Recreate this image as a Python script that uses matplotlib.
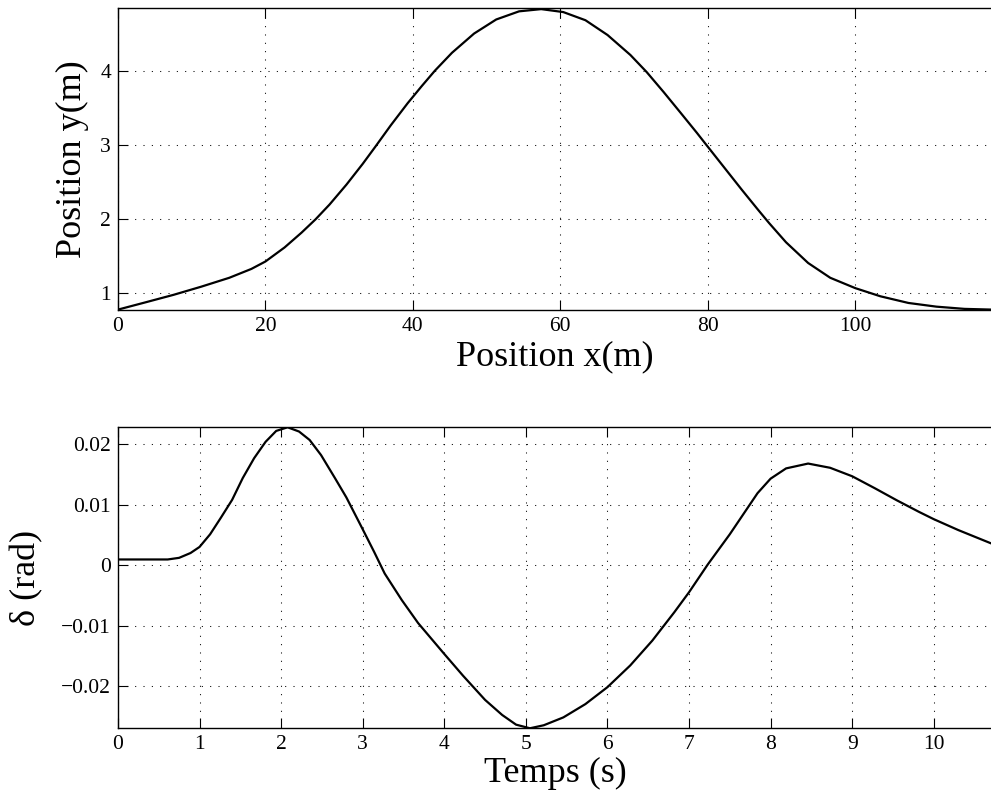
import numpy as np
import matplotlib
matplotlib.use("Agg")
import matplotlib.pyplot as plt

# trajectory (top plot)
pos_x = [0, 3.8, 7.55, 11.3, 15.1, 18.1, 20, 22.6, 24.9, 26.8, 28.7, 31, 33.2,
         34.9, 37, 39.3, 41.2, 43, 45.3, 48.3, 51.3, 54.4, 57.4, 60.4, 63.4,
         66.4, 69.5, 71.7, 74, 76.3, 78.5, 80, 82.3, 84.6, 86.8, 88.3, 90.6,
         93.6, 96.6, 100, 103.4, 107.2, 111, 114.8, 118.6]
pos_y = [0.77, 0.87, 0.97, 1.08, 1.20, 1.32, 1.42, 1.61, 1.81, 1.99, 2.19, 2.46,
         2.74, 2.97, 3.26, 3.56, 3.79, 4.00, 4.24, 4.50, 4.69, 4.80, 4.83, 4.79,
         4.68, 4.48, 4.21, 3.98, 3.71, 3.43, 3.16, 2.97, 2.68, 2.39, 2.12, 1.94,
         1.68, 1.40, 1.20, 1.06, 0.95, 0.86, 0.81, 0.78, 0.77]

# steering angle (bottom plot)
t = [0, 0.61, 0.75, 0.89, 1.0, 1.13, 1.26, 1.40, 1.53, 1.67, 1.81, 1.94, 2.08,
     2.22, 2.35, 2.49, 2.66, 2.80, 2.99, 3.14, 3.27, 3.48, 3.68, 4.0, 4.23,
     4.50, 4.71, 4.88, 5.05, 5.22, 5.46, 5.73, 6.0, 6.28, 6.55, 6.82, 7.0,
     7.23, 7.50, 7.71, 7.84, 8.0, 8.19, 8.46, 8.73, 9.0, 9.28, 9.55, 9.82,
     10.0, 10.3, 10.72]
delta = [0.00093, 0.00093, 0.0012, 0.0020, 0.0030, 0.0051, 0.0078, 0.0108,
         0.0144, 0.0177, 0.0204, 0.0222, 0.0228, 0.0221, 0.0207, 0.0182, 0.0144,
         0.0112, 0.0062, 0.0022, -0.0014, -0.0058, -0.0096, -0.0147, -0.0183,
         -0.0223, -0.0248, -0.0264, -0.0270, -0.0265, -0.0252, -0.0230, -0.0202,
         -0.0166, -0.0125, -0.0078, -0.0045, 0.0001, 0.0051, 0.0093, 0.0119,
         0.0143, 0.0160, 0.0168, 0.0161, 0.0147, 0.0127, 0.0107, 0.0088, 0.0076,
         0.0058, 0.0035]

x_ticks_top = [0, 20, 40, 60, 80, 100]
y_ticks_top = [1, 2, 3, 4]
t_ticks = list(range(11))
d_ticks = [-0.02, -0.01, 0, 0.01, 0.02]
d_labels = ["\u22120.02", "\u22120.01", "0", "0.01", "0.02"]

plt.rcParams['font.family'] = ['Liberation Serif', 'DejaVu Serif']

fig = plt.figure(figsize=(9.91, 8.01), dpi=100)
ax1 = fig.add_axes([0.119, 0.613, 0.8825, 0.377])
ax2 = fig.add_axes([0.119, 0.0908, 0.8825, 0.3765])


def style(ax):
    ax.grid(True, color='k', linewidth=0.75, linestyle=(0, (1, 7)))
    ax.tick_params(direction='in', length=7, width=0.8, top=True, right=False,
                   labelsize=15.5, pad=5)
    for s in ax.spines.values():
        s.set_linewidth(1.0)


ax1.plot(pos_x, pos_y, color='k', linewidth=1.6, solid_joinstyle='round')
ax1.set_xlim(0, 118.6)
ax1.set_ylim(0.765, 4.845)
ax1.set_xticks(x_ticks_top)
ax1.set_yticks(y_ticks_top)
style(ax1)
ax1.set_xlabel('Position x(m)', fontsize=26)
ax1.set_ylabel('Position y(m)', fontsize=26)
ax1.xaxis.set_label_coords(0.5, -0.099)
ax1.yaxis.set_label_coords(-0.033, 0.5)

ax2.plot(t, delta, color='k', linewidth=1.6, solid_joinstyle='round')
ax2.set_xlim(0, 10.72)
ax2.set_ylim(-0.027, 0.0229)
ax2.set_xticks(t_ticks)
ax2.set_yticks(d_ticks)
ax2.set_yticklabels(d_labels)
style(ax2)
ax2.set_xlabel('Temps (s)', fontsize=26)
ax2.set_ylabel('\u03b4 (rad)', fontsize=26)
ax2.xaxis.set_label_coords(0.5, -0.095)
ax2.yaxis.set_label_coords(-0.085, 0.5)

fig.savefig('out.png', dpi=100)
